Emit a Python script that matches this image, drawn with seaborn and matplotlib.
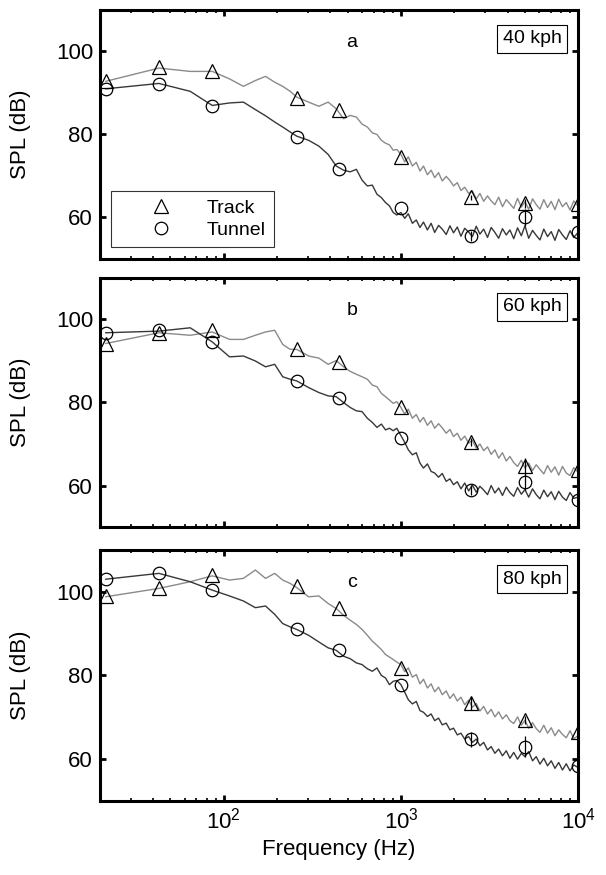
import numpy as np
import pandas as pd
import matplotlib
matplotlib.use("Agg")
import matplotlib.pyplot as plt
from matplotlib.lines import Line2D
import seaborn as sns

sns.set_theme(style="ticks", rc={
    "text.color": "black", "axes.labelcolor": "black",
    "xtick.color": "black", "ytick.color": "black",
    "axes.edgecolor": "black",
})
plt.rcParams["font.family"] = ["Liberation Sans", "DejaVu Sans"]
plt.rcParams["mathtext.fontset"] = "custom"
plt.rcParams["mathtext.rm"] = "Liberation Sans"
plt.rcParams["mathtext.default"] = "regular"

# ---------------- data ----------------
freq = [21.5, 43, 64.6, 86, 107.7, 129, 150.7, 172, 193.8, 215, 237, 258,
        301, 344, 388, 431, 474, 517, 560, 603, 646, 689, 732, 775, 818, 861,
        904, 947, 1000, 1050, 1100, 1160, 1220, 1280, 1340, 1410, 1480, 1550,
        1630, 1710, 1800, 1890, 1980, 2080, 2180, 2290, 2410, 2530, 2660, 2790,
        2930, 3080, 3230, 3390, 3560, 3740, 3930, 4120, 4330, 4550, 4780, 5010,
        5260, 5530, 5800, 6090, 6400, 6720, 7050, 7400, 7770, 8160, 8570, 9000,
        9450, 10000]

track_40 = [92.8, 96.0, 95.2, 95.2, 93.4, 91.6, 93.0, 94.0, 92.6, 91.6, 90.4, 89.0,
            87.8, 86.8, 87.8, 86.2, 83.8, 84.6, 84.2, 82.5, 81.8, 80.4, 80.0, 78.6,
            77.9, 77.5, 76.2, 76.4,
            75.2, 73.4, 74.6, 72.4, 73.3, 71.2, 72.4, 70.3, 71.4, 69.6, 70.8, 68.8,
            69.9, 68.9, 67.6, 68.4, 66.5, 67.3, 65.8, 66.4, 64.5, 65.8, 63.9, 65.2,
            64.0, 63.1, 64.9, 62.6, 64.3, 63.3, 62.2, 64.6, 62.5, 63.8, 62.0, 64.5,
            63.1, 62.0, 64.3, 62.4, 63.9, 61.9, 64.4, 62.6, 63.6, 61.8, 64.0, 62.7]
tunnel_40 = [91.0, 92.3, 90.4, 87.0, 87.6, 87.8, 86.0, 84.5, 83.0, 81.8, 80.6, 79.6,
             78.6, 77.2, 75.2, 72.4, 71.4, 71.0, 71.6, 69.0, 67.6, 67.8, 65.6, 64.8,
             63.6, 62.8, 61.2, 60.6,
             61.2, 59.8, 60.9, 58.6, 59.4, 57.6, 58.9, 57.0, 58.6, 56.4, 58.1, 57.2,
             55.9, 58.0, 56.3, 57.7, 55.5, 57.4, 56.5, 55.4, 57.9, 56.0, 57.2, 55.2,
             57.6, 56.4, 55.0, 57.3, 55.8, 57.0, 54.9, 57.5, 55.6, 58.0, 55.0, 56.9,
             55.7, 54.6, 57.2, 55.4, 56.6, 54.5, 57.1, 55.8, 54.7, 56.8, 55.2, 56.4]

track_60 = [94.2, 96.8, 96.2, 97.0, 95.2, 95.2, 96.2, 97.0, 97.4, 94.0, 92.8, 92.8,
            91.2, 90.7, 89.2, 90.1, 88.6, 87.5, 86.8, 86.2, 85.6, 84.2, 83.8, 82.2,
            81.4, 80.6, 79.8, 80.2,
            78.8, 77.2, 78.4, 76.2, 77.1, 75.3, 76.4, 74.5, 75.6, 73.8, 74.9, 73.9,
            72.6, 73.5, 71.8, 72.6, 70.9, 71.9, 70.2, 70.9, 69.0, 70.0, 68.4, 69.3,
            67.5, 68.6, 66.6, 67.9, 65.9, 67.0, 65.5, 64.6, 66.1, 64.2, 65.4, 63.6,
            65.0, 63.9, 62.8, 64.8, 63.2, 64.5, 62.5, 64.6, 63.0, 62.4, 64.3, 63.2]
tunnel_60 = [96.8, 97.2, 98.0, 94.6, 91.0, 91.2, 90.0, 88.6, 89.2, 86.2, 85.6, 85.2,
             83.6, 82.4, 81.6, 81.4, 80.0, 78.8, 78.0, 77.8, 76.2, 75.2, 74.0, 74.8,
             73.4, 73.8, 73.2, 73.8,
             72.0, 70.4, 68.6, 67.4, 67.9, 65.4, 64.2, 65.2, 63.4, 63.0, 62.0, 62.9,
             61.0, 61.6, 60.2, 60.9, 59.2, 60.6, 58.7, 60.1, 58.4, 59.8, 58.9, 57.8,
             60.0, 58.2, 59.4, 57.6, 59.6, 58.3, 57.4, 59.5, 57.9, 59.0, 57.2, 59.2,
             57.8, 56.8, 58.9, 57.3, 58.5, 56.6, 58.6, 57.2, 56.4, 58.3, 56.9, 57.2]

track_80 = [98.8, 100.8, 102.4, 103.8, 102.8, 103.2, 105.2, 103.2, 104.4, 102.8, 102.0, 101.0,
            98.8, 99.0, 97.2, 96.0, 94.4, 93.2, 92.2, 91.0, 89.6, 88.2, 87.2, 86.2,
            85.0, 84.4, 83.8, 83.2,
            82.6, 80.9, 81.8, 79.6, 80.2, 78.0, 79.1, 77.0, 78.0, 76.1, 77.2, 75.4,
            76.3, 74.5, 75.6, 73.9, 74.8, 73.0, 74.1, 72.4, 73.3, 71.5, 72.6, 70.8,
            71.9, 70.1, 71.3, 69.6, 70.6, 69.2, 68.5, 70.1, 68.1, 69.3, 67.4, 68.7,
            67.3, 66.4, 68.1, 66.2, 67.5, 65.6, 67.0, 65.9, 65.1, 66.8, 64.9, 65.6]
tunnel_80 = [103.0, 104.4, 102.4, 100.4, 99.0, 97.8, 96.2, 96.6, 94.6, 92.4, 91.6, 91.0,
             89.6, 88.0, 86.6, 86.0, 84.6, 84.0, 83.0, 82.6, 81.6, 81.0, 81.8, 80.0,
             79.4, 77.8, 78.6, 78.8,
             77.8, 76.0, 74.2, 73.2, 73.8, 71.6, 71.2, 70.2, 70.8, 69.2, 69.8, 68.2,
             68.6, 67.0, 67.4, 65.8, 66.2, 64.8, 65.4, 64.0, 64.8, 63.2, 64.0, 62.2,
             63.0, 61.4, 62.4, 60.8, 62.0, 60.2, 61.6, 60.0, 61.4, 60.6, 61.8, 59.6,
             60.6, 58.8, 60.2, 58.4, 59.6, 57.8, 59.2, 57.4, 58.9, 57.2, 58.6, 58.0]

marker_freq = [21.5, 43, 86, 258, 446, 1000, 2500, 5000, 10000]
track_mk_40 = [92.9, 96.2, 95.3, 88.9, 85.9, 74.6, 64.9, 63.4, 63.2]
tunnel_mk_40 = [90.9, 92.2, 86.9, 79.5, 71.8, 62.4, 55.6, 60.0, 56.6]
track_mk_60 = [94.1, 96.8, 97.4, 92.8, 89.8, 78.8, 70.4, 64.8, 63.8]
tunnel_mk_60 = [96.8, 97.4, 94.6, 85.2, 81.2, 71.4, 59.0, 60.9, 56.6]
track_mk_80 = [99.0, 101.0, 104.0, 101.3, 96.1, 81.9, 73.3, 69.4, 66.5]
tunnel_mk_80 = [103.0, 104.6, 100.4, 91.0, 86.2, 77.8, 64.8, 63.0, 58.4]

# small error bars (dB) at the marker frequencies
track_err_40 = [0, 0, 0, 0, 0, 0, 0.6, 1.0, 0.6]
tunnel_err_40 = [0, 0, 0, 0, 0, 0, 1.2, 2.0, 0.8]
track_err_60 = [0, 0, 0, 0, 0, 0, 1.0, 1.8, 0.6]
tunnel_err_60 = [0, 0, 0, 0, 0, 0, 1.2, 2.0, 0.8]
track_err_80 = [0, 0, 0, 0, 0, 0, 1.5, 1.0, 0.6]
tunnel_err_80 = [0, 0, 0, 0, 0, 0, 1.8, 2.6, 1.0]

panel_letters = ["a", "b", "c"]
speed_labels = ["40 kph", "60 kph", "80 kph"]
series_names = ["Track", "Tunnel"]

panels = [
    (track_40, tunnel_40, track_mk_40, tunnel_mk_40, track_err_40, tunnel_err_40),
    (track_60, tunnel_60, track_mk_60, tunnel_mk_60, track_err_60, tunnel_err_60),
    (track_80, tunnel_80, track_mk_80, tunnel_mk_80, track_err_80, tunnel_err_80),
]

# ---------------- style ----------------
track_color = "#8a8a8a"
tunnel_color = "#383838"

fig = plt.figure(figsize=(6.06, 8.75), dpi=100)
ax_rects = [
    [0.165, 0.704, 0.789, 0.2846],
    [0.165, 0.3977, 0.789, 0.2846],
    [0.165, 0.0846, 0.789, 0.2869],
]

for i, (rect, (tr, tu, trm, tum, tre, tue)) in enumerate(zip(ax_rects, panels)):
    ax = fig.add_axes(rect)
    df = pd.DataFrame({
        "freq": freq * 2,
        "spl": tr + tu,
        "series": ["Track"] * len(freq) + ["Tunnel"] * len(freq),
    })
    sns.lineplot(data=df, x="freq", y="spl", hue="series",
                 palette={"Track": track_color, "Tunnel": tunnel_color},
                 estimator=None, sort=False, linewidth=1.0, legend=False, ax=ax)
    ax.errorbar(marker_freq, trm, yerr=tre, fmt="none", ecolor="black",
                elinewidth=0.9, capsize=0)
    ax.errorbar(marker_freq, tum, yerr=tue, fmt="none", ecolor="black",
                elinewidth=0.9, capsize=0)
    sns.lineplot(x=marker_freq, y=trm, marker="^", linestyle="", color="black",
                 markersize=10, markerfacecolor="none", markeredgecolor="black",
                 markeredgewidth=0.9, estimator=None, sort=False, legend=False, ax=ax)
    sns.lineplot(x=marker_freq, y=tum, marker="o", linestyle="", color="black",
                 markersize=9, markerfacecolor="none", markeredgecolor="black",
                 markeredgewidth=0.9, estimator=None, sort=False, legend=False, ax=ax)

    ax.set_xscale("log")
    ax.set_xlim(20, 10000)
    ax.set_ylim(50, 110)
    ax.set_yticks([60, 80, 100])
    ax.set_xticks([100, 1000, 10000])
    for s in ax.spines.values():
        s.set_linewidth(2.2)
        s.set_visible(True)
        s.set_edgecolor("black")
    ax.tick_params(which="major", direction="in", top=True, right=True,
                   length=4, width=2.0, labelsize=16, pad=5, colors="black")
    ax.tick_params(which="minor", direction="in", top=True, right=True,
                   length=2, width=1.2, colors="black")
    ax.set_ylabel("SPL (dB)", fontsize=16, color="black")
    ax.yaxis.set_label_coords(-0.145, 0.5)
    if i < 2:
        ax.set_xlabel("")
        ax.tick_params(axis="x", which="both", labelbottom=False)
    else:
        ax.set_xlabel("Frequency (Hz)", fontsize=16, labelpad=4, color="black")

    ax.text(0.527, 0.87, panel_letters[i], transform=ax.transAxes,
            ha="center", va="center", fontsize=14, color="black")
    ax.text(0.904, 0.884, speed_labels[i], transform=ax.transAxes,
            ha="center", va="center", fontsize=14, color="black",
            bbox=dict(boxstyle="square,pad=0.3", fc="white", ec="black", lw=0.8))

    if i == 0:
        handles = [
            Line2D([], [], marker="^", linestyle="", markersize=10,
                   markerfacecolor="none", markeredgecolor="black", markeredgewidth=0.9),
            Line2D([], [], marker="o", linestyle="", markersize=9,
                   markerfacecolor="none", markeredgecolor="black", markeredgewidth=0.9),
        ]
        leg = ax.legend(handles, series_names, loc="lower left",
                        bbox_to_anchor=(0.024, 0.048), borderaxespad=0,
                        fontsize=14, frameon=True, fancybox=False,
                        edgecolor="black", handlelength=4.3, handletextpad=0.2,
                        borderpad=0.4, labelspacing=0.25)
        leg.get_frame().set_linewidth(0.8)
        for t in leg.get_texts():
            t.set_color("black")

fig.savefig("out.png", dpi=100)
